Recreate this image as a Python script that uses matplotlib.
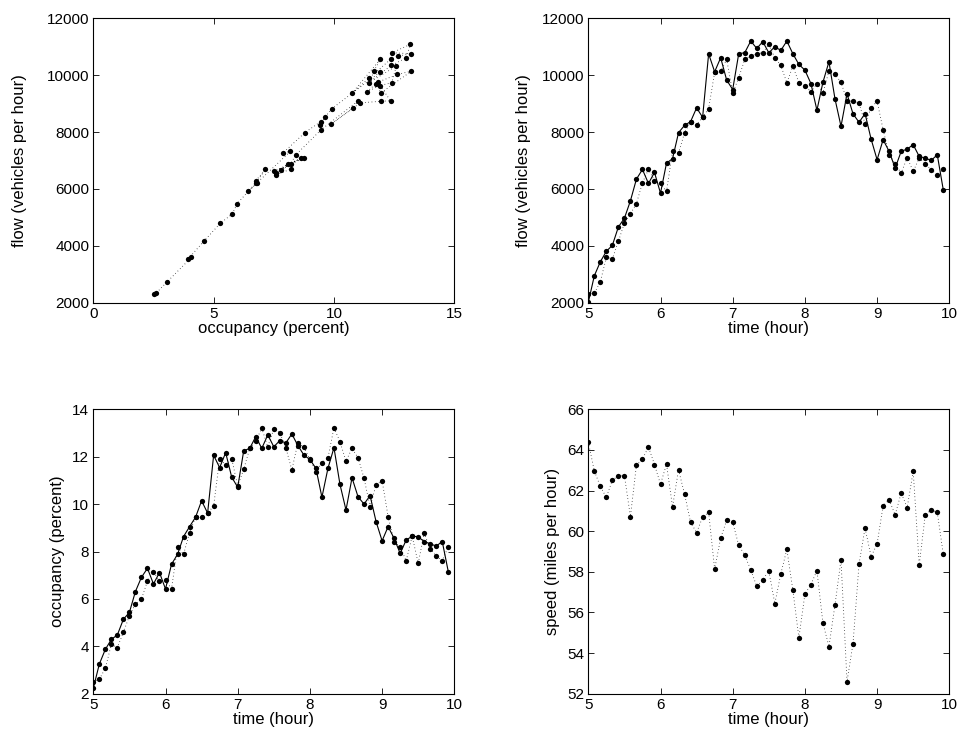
import numpy as np
import matplotlib.pyplot as plt

plt.rcParams['font.family'] = ['Liberation Sans', 'DejaVu Sans']

# 5-minute samples from 5:00 to 9:55
time_h = 5 + np.arange(60) / 12.0

flow_a = [2010, 2946, 3440, 3807, 4018, 4664, 4970, 5581, 6346, 6685,
          6192, 6580, 5852, 6910, 7062, 7979, 8237, 8367, 8850, 8520,
          10750, 10119, 10613, 9825, 9496, 10754, 10789, 11200, 10942, 11177,
          10789, 11001, 10871, 11200, 10754, 10378, 10178, 9707, 8767, 9754,
          10472, 9166, 8203, 9343, 8638, 8344, 8649, 7756, 7027, 7732,
          7320, 6732, 7321, 7403, 7556, 7144, 7085, 7003, 7203, 5968]

flow_b = [2300, 2336, 2735, 3595, 3535, 4160, 4794, 5123, 5486, 6216,
          6685, 6286, 6192, 5910, 7320, 7263, 7979, 8367, 8262, 8520,
          8826, 10100, 10142, 10554, 9378, 9907, 10554, 10671, 10754, 10789,
          11083, 10613, 10342, 9731, 10319, 9731, 9637, 9414, 9707, 9378,
          10142, 10025, 9754, 9100, 9084, 9025, 8285, 8849, 9084, 8085,
          7203, 6885, 6556, 7100, 6615, 7085, 6885, 6673, 6497, 6697]

occ_a = [2.23, 3.25, 3.87, 4.29, 4.48, 5.14, 5.43, 6.31, 6.91, 7.29,
         6.63, 7.11, 6.42, 7.46, 7.88, 8.63, 9.05, 9.45, 10.14, 9.62,
         12.06, 11.54, 12.17, 11.14, 10.71, 12.25, 12.35, 12.85, 12.35, 12.92,
         12.42, 12.68, 12.58, 12.96, 12.47, 12.07, 11.88, 11.51, 10.29, 11.51,
         12.38, 10.83, 9.75, 11.11, 10.31, 10.00, 10.36, 9.26, 8.45, 9.05,
         8.55, 7.92, 8.48, 8.65, 8.62, 8.42, 8.32, 8.23, 8.42, 7.15]

occ_b = [2.51, 2.61, 3.07, 4.08, 3.94, 4.59, 5.28, 5.78, 5.98, 6.76,
         7.15, 6.75, 6.80, 6.42, 8.19, 7.88, 8.79, 9.45, 9.44, 9.62,
         9.92, 11.90, 11.66, 11.92, 10.76, 11.47, 12.35, 12.66, 13.20, 12.42,
         13.17, 13.01, 12.38, 11.44, 12.59, 12.40, 11.90, 11.37, 11.75, 11.95,
         13.22, 12.63, 11.82, 12.35, 11.96, 11.09, 9.89, 10.81, 10.99, 9.47,
         8.42, 8.20, 7.60, 8.65, 7.50, 8.77, 8.11, 7.81, 7.61, 8.20]

speed = [64.38, 62.97, 62.20, 61.66, 62.52, 62.72, 62.74, 60.72, 63.25, 63.54,
         64.15, 63.28, 62.31, 63.30, 61.20, 63.02, 61.82, 60.44, 59.93, 60.69,
         60.93, 58.13, 59.66, 60.54, 60.44, 59.31, 58.82, 58.10, 57.28, 57.61,
         58.05, 56.44, 57.90, 59.11, 57.10, 54.75, 56.90, 57.37, 58.06, 55.47,
         54.32, 56.37, 58.59, 52.60, 54.47, 58.39, 60.16, 58.75, 59.37, 61.26,
         61.54, 60.80, 61.88, 61.16, 62.95, 58.34, 60.80, 61.05, 60.93, 58.87]

fig = plt.figure(figsize=(9.67, 7.51), dpi=100)
W, H = 967.0, 751.0


def make_ax(x0, y_top, w=361.0, h=284.4):
    ax = fig.add_axes([x0 / W, 1 - (y_top + h) / H, w / W, h / H])
    ax.tick_params(direction='in', top=True, right=True, length=4,
                   width=0.6, labelsize=11, pad=3)
    for s in ax.spines.values():
        s.set_linewidth(0.8)
    return ax


dot = dict(marker='o', markersize=3.8, markeredgewidth=0, color='k')
dotted = dict(linestyle=(0, (0.8, 3.2)), linewidth=0.6)
solid = dict(linestyle='-', linewidth=0.8)

# flow vs occupancy
ax1 = make_ax(93.3, 18.3)
ax1.plot(occ_b, flow_b, **dotted, **dot)
ax1.set_xlim(0, 15)
ax1.set_ylim(2000, 12000)
ax1.set_xticks([0, 5, 10, 15])
ax1.set_yticks(range(2000, 12001, 2000))
ax1.set_xlabel('occupancy (percent)', fontsize=12, labelpad=0)
ax1.set_ylabel('flow (vehicles per hour)', fontsize=12, labelpad=14)

# flow vs time
ax2 = make_ax(588.3, 18.3)
ax2.plot(time_h, flow_a, **solid, **dot)
ax2.plot(time_h, flow_b, **dotted, **dot)
ax2.set_xlim(5, 10)
ax2.set_ylim(2000, 12000)
ax2.set_yticks(range(2000, 12001, 2000))
ax2.set_xlabel('time (hour)', fontsize=12, labelpad=0)
ax2.set_ylabel('flow (vehicles per hour)', fontsize=12, labelpad=8)

# occupancy vs time
ax3 = make_ax(93.3, 409.3)
ax3.plot(time_h, occ_a, **solid, **dot)
ax3.plot(time_h, occ_b, **dotted, **dot)
ax3.set_xlim(5, 10)
ax3.set_ylim(2, 14)
ax3.set_yticks(range(2, 15, 2))
ax3.set_xlabel('time (hour)', fontsize=12, labelpad=0)
ax3.set_ylabel('occupancy (percent)', fontsize=12, labelpad=5)

# speed vs time
ax4 = make_ax(588.3, 409.3)
ax4.plot(time_h, speed, **dotted, **dot)
ax4.set_xlim(5, 10)
ax4.set_ylim(52, 66)
ax4.set_yticks(range(52, 67, 2))
ax4.set_xlabel('time (hour)', fontsize=12, labelpad=0)
ax4.set_ylabel('speed (miles per hour)', fontsize=12, labelpad=5)

fig.savefig('out.png', dpi=100)
